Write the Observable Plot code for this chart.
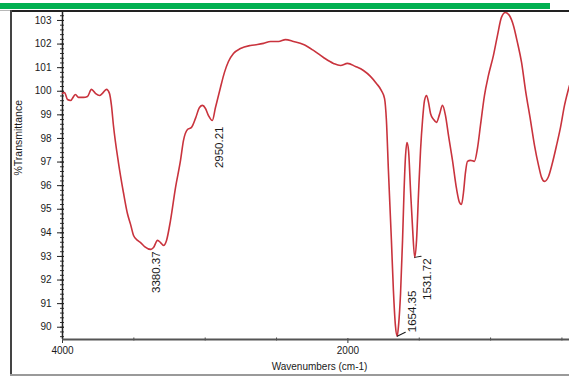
<!DOCTYPE html>
<html>
<head>
<meta charset="utf-8">
<script src="https://cdn.jsdelivr.net/npm/d3@7"></script>
<script src="https://cdn.jsdelivr.net/npm/@observablehq/plot@0.6"></script>
<style>
  html, body { margin: 0; padding: 0; background: #fff; }
  #wrap { position: relative; width: 569px; height: 376px; overflow: hidden; background: #fff; }
  #chart { position: absolute; left: 0; top: 0; }
  .deco { position: absolute; }
</style>
</head>
<body>
<div id="wrap">
  <div id="chart"></div>
  <div class="deco" style="left:0;top:3px;width:550px;height:6px;background:#00b050"></div>
  <div class="deco" style="left:0;top:10px;width:10px;height:1px;background:#b8b8b8"></div>
  <div class="deco" style="left:10px;top:10px;width:559px;height:1.5px;background:#222"></div>
  <div class="deco" style="left:10px;top:10px;width:1.5px;height:366px;background:#444"></div>
  <div class="deco" style="left:10px;top:374px;width:559px;height:1.5px;background:#9a9a9a"></div>
</div>
<script>
// IR spectrum: wavenumber (cm-1) and percent transmittance
const wavenumber = [
  4000, 3986, 3965, 3944, 3909, 3888, 3853, 3825, 3797, 3769, 3741, 3720, 3692, 3671, 3657, 3643,
  3608, 3573, 3545, 3523, 3502, 3474, 3453, 3425, 3380.37, 3362, 3334, 3313, 3292, 3271, 3243, 3208,
  3173, 3152, 3124, 3096, 3068, 3040, 3019, 2998, 2977, 2950.21, 2928, 2893, 2865, 2837, 2802, 2753,
  2683, 2634, 2591, 2542, 2486, 2437, 2381, 2311, 2241, 2171, 2101, 2052, 2003, 1947, 1891, 1842,
  1800, 1765, 1743, 1730, 1716, 1695, 1681, 1667, 1654.35, 1645, 1631, 1617, 1607, 1596, 1586, 1575,
  1561, 1547, 1531.72, 1519, 1505, 1491, 1477, 1463, 1449, 1435, 1421, 1400, 1379, 1358, 1337, 1316,
  1295, 1267, 1239, 1218, 1204, 1190, 1176, 1162, 1141, 1113, 1092, 1071, 1043, 1015, 980, 952,
  924, 896, 868, 840, 812, 783, 755, 720, 692, 664, 643, 622, 594, 566, 538, 510, 482, 447
];
const transmittance = [
  99.91, 99.95, 99.65, 99.61, 99.86, 99.74, 99.74, 99.78, 100.08, 99.91, 99.82, 99.91, 100.08, 99.91, 99.40, 98.55,
  96.98, 95.71, 94.82, 94.36, 93.89, 93.68, 93.59, 93.42, 93.30, 93.38, 93.68, 93.59, 93.47, 93.68, 94.53, 95.92,
  97.07, 97.92, 98.38, 98.47, 98.85, 99.31, 99.40, 99.27, 98.97, 98.76, 99.31, 100.16, 100.80, 101.26, 101.60, 101.81,
  101.94, 101.98, 102.03, 102.11, 102.11, 102.19, 102.11, 101.98, 101.73, 101.43, 101.18, 101.09, 101.18, 101.05, 100.88, 100.63,
  100.33, 100.03, 99.69, 98.76, 96.64, 93.68, 91.56, 90.08, 89.62, 90.08, 91.43, 93.68, 95.67, 97.28, 97.83, 97.49,
  95.80, 94.23, 92.96, 93.68, 95.67, 97.49, 98.76, 99.61, 99.82, 99.53, 99.06, 98.81, 98.68, 99.02, 99.40, 98.97,
  98.13, 97.07, 95.88, 95.29, 95.20, 95.71, 96.56, 97.03, 97.07, 97.03, 97.58, 98.55, 99.82, 100.67, 101.52, 102.36,
  103.13, 103.34, 103.21, 102.79, 102.07, 101.22, 100.03, 98.76, 97.70, 96.86, 96.35, 96.18, 96.39, 96.98, 97.70, 98.47, 99.40, 100.25
];

// Labelled absorption bands
const peakWavenumber = [3380.37, 2950.21, 1654.35, 1531.72];
const peakTransmittance = [93.30, 98.76, 89.62, 92.96];

// Axis ticks
const yTickValues = [90, 91, 92, 93, 94, 95, 96, 97, 98, 99, 100, 101, 102, 103];
const yMinorTicks = d3.range(89.6, 103.3, 0.2);
const xLabelledTicks = [4000, 2000];
const xMinorTicks = [3500, 3000, 2500, 1500, 1000, 500];

const spectrum = wavenumber.map((w, i) => ({w, t: transmittance[i]}));
const peaks = peakWavenumber.map((w, i) => ({w, t: peakTransmittance[i], label: w.toFixed(2)}));

// Placement of each band label (pixel offsets), plus an optional leader line
const labelPlacement = [
  {dx: 5, dy: 2, textAnchor: "end"},
  {dx: 7, dy: 6, textAnchor: "end"},
  {dx: 15, dy: -4, textAnchor: "start", leader: {length: 9, angle: 64}},
  {dx: 13, dy: 1, textAnchor: "end", leader: {length: 6.5, angle: 80}}
];

const leaderShape = {
  draw(context, l) { context.moveTo(0, 0); context.lineTo(0, -l); }
};

const peakMarks = peaks.flatMap((p, i) => {
  const s = labelPlacement[i];
  const m = [
    Plot.text([p], {
      x: "w", y: "t", text: "label", rotate: -90,
      textAnchor: s.textAnchor, dx: s.dx, dy: s.dy,
      fontSize: 11.5, fill: "#1a1a1a"
    })
  ];
  if (s.leader) {
    m.push(Plot.vector([p], {
      x: "w", y: "t", anchor: "start",
      length: s.leader.length, rotate: s.leader.angle,
      shape: leaderShape, stroke: "#1a1a1a", strokeWidth: 1
    }));
  }
  return m;
});

const chart = Plot.plot({
  width: 569,
  height: 376,
  marginLeft: 62,
  marginRight: 0,
  marginTop: 11,
  marginBottom: 37,
  style: {fontFamily: "'Liberation Sans', Arial, sans-serif", fontSize: "10px", color: "#1a1a1a", background: "#fff", overflow: "visible"},
  x: {domain: [4000, 447], label: null},
  y: {domain: [89.48, 103.38], label: null},
  marks: [
    Plot.axisY(yMinorTicks, {tickSize: 4, insetLeft: 2, fill: "none", stroke: "#333", label: null}),
    Plot.axisY(yTickValues, {tickSize: 7, insetLeft: 2, fill: "none", stroke: "#222", label: null}),
    Plot.axisY(yTickValues, {tickSize: 0, tickPadding: 11, fill: "#1a1a1a", label: null, tickFormat: d => String(d)}),
    Plot.axisX(xMinorTicks, {tickSize: 3, insetBottom: 1.5, fill: "none", stroke: "#444", label: null}),
    Plot.axisX(xLabelledTicks, {tickSize: 5, insetBottom: 1, fill: "none", stroke: "#333", label: null}),
    Plot.axisX(xLabelledTicks, {tickSize: 0, tickPadding: 7, fill: "#1a1a1a", label: null, tickFormat: d => String(d)}),
    Plot.ruleX([4000], {stroke: "#222", strokeWidth: 1.5}),
    Plot.ruleY([89.48], {stroke: "#555", strokeWidth: 2}),
    Plot.line(spectrum, {x: "w", y: "t", stroke: "#c9333d", strokeWidth: 1.6, curve: "monotone-x"}),
    ...peakMarks,
    Plot.text(["%Transmittance"], {frameAnchor: "left", dx: -44, rotate: -90, fontSize: 10.5, fill: "#1a1a1a"}),
    Plot.text(["Wavenumbers (cm-1)"], {frameAnchor: "bottom", dx: 3.5, dy: 30, fontSize: 10, fill: "#1a1a1a"})
  ]
});

document.getElementById("chart").appendChild(chart);
</script>
</body>
</html>
